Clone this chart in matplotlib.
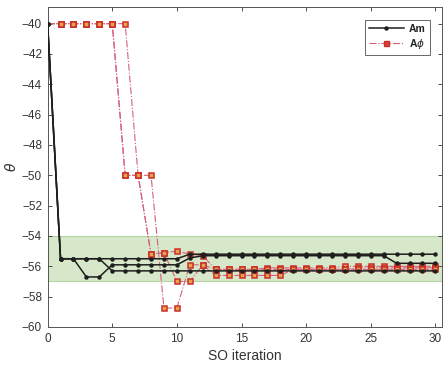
import numpy as np
import matplotlib
matplotlib.use("Agg")
from matplotlib import pyplot as plt
from matplotlib.lines import Line2D

plt.rcParams["font.family"] = ["Liberation Sans", "DejaVu Sans"]
plt.rcParams["mathtext.fontset"] = "dejavusans"

# SO iterations 0..30
iters = np.arange(31)

# Am runs
am_runs = [
    [-40] + [-55.5] * 10 + [-55.2] * 20,
    [-40] + [-55.5] * 4 + [-56.3] * 26,
    [-40, -55.5, -55.5, -56.7, -56.7] + [-55.9] * 6 + [-55.45] + [-55.3] * 15 + [-55.8] * 4,
]

# A-phi runs
aphi_runs = [
    [-40] * 6 + [-50, -50, -55.2, -55.1, -55.0, -55.2, -55.3]
    + [-56.2] * 4 + [-56.1] * 6 + [-56.0] * 8,
    [-40] * 7 + [-50, -50, -58.75, -58.75, -55.9, -55.9]
    + [-56.2] * 11 + [-56.1] * 7,
    [-40] * 6 + [-50, -50, -55.2, -55.1, -57.0, -57.0, -55.9]
    + [-56.6] * 6 + [-56.2] * 12,
]

yticks = np.arange(-60, -39, 2)
xticks = [0, 5, 10, 15, 20, 25, 30]

am_color = "#1e1e1e"
aphi_line = "#d4607c"
aphi_face = "#eba04c"
aphi_edge = "#c8302c"

fig = plt.figure(figsize=(4.45, 3.67), dpi=100)
ax = fig.add_axes([0.107, 0.109, 0.886, 0.872])

# tolerance band
ax.axhspan(-57, -54, facecolor="#d6e8c9", edgecolor="#b3d3a0", lw=0.8, zorder=0)

for run in aphi_runs:
    ax.plot(iters, run, linestyle="-.", color=aphi_line, lw=0.8,
            marker="s", markersize=3.6, markerfacecolor=aphi_face,
            markeredgecolor=aphi_edge, markeredgewidth=1.1,
            markevery=slice(1, None), zorder=2)

for run in am_runs:
    ax.plot(iters, run, "-", color=am_color, lw=1.1, marker="o",
            markersize=2.2, zorder=3)

ax.set_xlim(0, 30.5)
ax.set_ylim(-60, -38.9)
ax.set_xticks(xticks)
ax.set_yticks(yticks)
ax.tick_params(direction="in", top=True, right=True, length=3, width=0.6,
               labelsize=8.5, colors="#333333", labelcolor="#333333", pad=4)
for s in ax.spines.values():
    s.set_color("#555555")
    s.set_linewidth(0.7)

ax.set_xlabel("SO iteration", fontsize=10, color="#333333", labelpad=3)
ax.set_ylabel(r"$\theta$", fontsize=10, color="#333333", labelpad=2)

handles = [
    Line2D([], [], color=am_color, lw=1.1, marker="o", markersize=2.2),
    Line2D([], [], color=aphi_line, lw=0.8, linestyle="-.", marker="s",
           markersize=3.6, markerfacecolor="#d8403a",
           markeredgecolor=aphi_edge),
]
leg = ax.legend(handles, ["Am", r"A$\phi$"], loc="upper right",
                bbox_to_anchor=(0.982, 0.975), fontsize=7.5, handlelength=3.4,
                fancybox=False, framealpha=1, borderpad=0.35,
                labelspacing=0.3, handletextpad=0.5)
leg.get_frame().set_edgecolor("#666666")
leg.get_frame().set_linewidth(0.7)
for t in leg.get_texts():
    t.set_fontweight("bold")
    t.set_color("#222222")

fig.savefig("out.png", dpi=100)
